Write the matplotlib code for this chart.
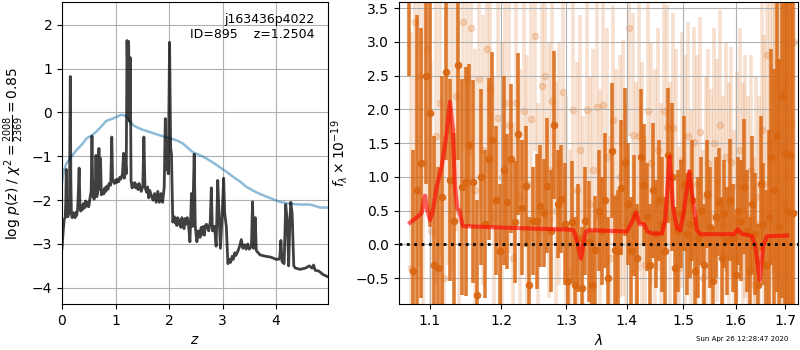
import matplotlib
matplotlib.use('Agg')
import matplotlib.pyplot as plt
from matplotlib.ticker import NullLocator, NullFormatter

# redshift fit: log p(z) and prior
z_grid = [0.00, 0.02, 0.04, 0.06, 0.07, 0.08, 0.09, 0.11, 0.13, 0.14, 0.155, 0.165, 0.175,
          0.19, 0.20, 0.215, 0.23, 0.245, 0.26, 0.275, 0.29, 0.30, 0.32, 0.335, 0.35, 0.36,
          0.38, 0.40, 0.42, 0.44, 0.46, 0.48, 0.50, 0.52, 0.545,
          0.56, 0.575, 0.60, 0.62, 0.635, 0.65, 0.67, 0.69, 0.705, 0.72, 0.735, 0.76, 0.78,
          0.80, 0.82, 0.84, 0.86, 0.88, 0.91, 0.93, 0.945, 0.98, 1.00, 1.02, 1.04, 1.06,
          1.08, 1.10, 1.13, 1.15, 1.165, 1.18,
          1.20, 1.215, 1.23, 1.245, 1.26, 1.275, 1.29, 1.31, 1.32, 1.34, 1.36, 1.38, 1.40,
          1.42, 1.44, 1.46, 1.48, 1.51,
          1.53, 1.55, 1.58, 1.60, 1.62, 1.64, 1.66, 1.70, 1.73, 1.76, 1.79, 1.82, 1.85, 1.88,
          1.91, 1.93, 1.95, 1.97, 1.985, 2.01, 2.03, 2.045, 2.07, 2.10, 2.115, 2.13, 2.145,
          2.16, 2.18, 2.20, 2.22, 2.24, 2.26, 2.28, 2.30, 2.32, 2.34, 2.36, 2.39, 2.42, 2.44,
          2.47, 2.49, 2.52, 2.55, 2.58, 2.60, 2.62, 2.64, 2.66, 2.68,
          2.70, 2.74, 2.77, 2.79, 2.81, 2.85, 2.88, 2.91, 2.93, 2.96, 2.99, 3.02, 3.04,
          3.07, 3.10, 3.13, 3.15, 3.18, 3.20, 3.23, 3.25, 3.29, 3.32, 3.35, 3.38, 3.41,
          3.44, 3.47, 3.50,
          3.54, 3.56, 3.58, 3.61, 3.63, 3.70, 3.80, 3.90, 4.00, 4.05, 4.07, 4.09, 4.11,
          4.15, 4.18, 4.21, 4.235, 4.26, 4.275, 4.30, 4.33, 4.36, 4.45, 4.55, 4.62, 4.67,
          4.70, 4.73, 4.80, 4.88, 4.97]
log_pz = [-3.10, -2.75, -2.45, -2.40, -2.05, -1.30, -2.30, -2.38, -2.30, -1.90, 0.82, -1.50, -2.30,
          -2.40, -2.28, -2.38, -2.30, -2.40, -2.28, -2.35, -2.22, -2.00, -1.27, -2.10, -2.25, -2.12,
          -2.22, -2.08, -2.18, -2.02, -2.14, -2.05, -2.15, -1.98, -1.80,
          -0.54, -1.90, -1.98, -1.85, -0.98, -1.92, -1.80, -0.82, -1.75, -1.05, -1.88, -1.78, -1.86,
          -1.72, -1.80, -1.68, -1.75, -1.62, -1.66, -0.56, -1.55, -1.62, -1.54, -1.60, -1.52, -1.58,
          -1.48, -1.52, -1.40, -0.93, -1.50, -1.00,
          -1.40, 1.64, 0.60, 1.62, -0.20, 1.25, -1.55, -1.72, -1.62, -1.70, -1.60, -1.72, -1.65,
          -1.76, -1.62, -1.72, -1.80, -1.68,
          -0.56, -1.70, -1.82, -1.70, -1.95, -1.78, -1.86, -2.00, -1.85, -2.05, -1.80, -2.05, -1.85, -2.05,
          -1.70, -0.14, -1.30, -0.90, -1.40, 1.60, -0.80, -0.95, -2.50, -2.38, -2.52, -2.42, -2.58,
          -2.40, -2.55, -2.45, -2.62, -2.40, -2.55, -2.65, -2.42, -2.55, -2.40, -2.50, -2.95, -1.85, -2.60,
          -0.95, -2.60, -2.95, -2.70, -2.85, -2.62, -2.78, -2.60, -2.80, -2.58,
          -2.55, -2.70, -2.50, -1.72, -2.70, -2.60, -3.05, -1.55, -2.20, -3.10, -2.40, -1.50, -2.30,
          -2.60, -3.45, -3.35, -3.42, -3.28, -3.35, -3.20, -3.26, -3.15, -3.05, -2.90, -3.10, -3.02,
          -3.12, -3.00, -3.12,
          -3.05, -2.04, -3.10, -2.40, -3.15, -3.25, -3.28, -3.30, -3.35, -3.35, -3.30, -2.92, -3.40,
          -3.45, -2.10, -2.50, -3.50, -2.40, -2.05, -2.30, -3.50, -3.55, -3.58, -3.55, -3.50, -3.55,
          -3.48, -3.60, -3.62, -3.70, -3.75]

z_prior = [0.00, 0.03, 0.08, 0.15, 0.27, 0.38, 0.46, 0.55, 0.64, 0.75, 0.83, 0.95, 1.02,
           1.11, 1.20, 1.26, 1.33, 1.42, 1.52, 1.65, 1.77, 1.90, 2.02, 2.15, 2.26, 2.36,
           2.45, 2.55, 2.64, 2.74, 2.83, 2.95, 3.08, 3.20, 3.33, 3.45, 3.58, 3.70, 3.82,
           3.95, 4.07, 4.20, 4.32, 4.45, 4.63, 4.72, 4.82, 4.97]
log_prior = [-1.60, -1.35, -1.17, -1.05, -0.86, -0.72, -0.59, -0.53, -0.44, -0.30, -0.19, -0.14, -0.10,
             -0.05, -0.08, -0.18, -0.29, -0.35, -0.40, -0.45, -0.50, -0.55, -0.59, -0.64, -0.71, -0.82,
             -0.91, -0.96, -1.01, -1.08, -1.15, -1.25, -1.36, -1.47, -1.58, -1.70, -1.79, -1.86, -1.92,
             -1.98, -2.04, -2.07, -2.09, -2.10, -2.10, -2.13, -2.17, -2.17]

# G141 spectrum, two extractions
wave_a = [1.0720, 1.0775, 1.0830, 1.0885, 1.0940, 1.0995, 1.1050, 1.1105, 1.1160, 1.1215,
          1.1270, 1.1325, 1.1380, 1.1435, 1.1490, 1.1545, 1.1600, 1.1655, 1.1710, 1.1765,
          1.1820, 1.1875, 1.1930, 1.1985, 1.2040, 1.2095, 1.2150, 1.2205, 1.2260, 1.2315,
          1.2370, 1.2425, 1.2480, 1.2535, 1.2590, 1.2645, 1.2700, 1.2755, 1.2810, 1.2865,
          1.2920, 1.2975, 1.3030, 1.3085, 1.3140, 1.3195, 1.3250, 1.3305, 1.3360, 1.3415,
          1.3470, 1.3525, 1.3580, 1.3635, 1.3690, 1.3745, 1.3800, 1.3855, 1.3910, 1.3965,
          1.4020, 1.4075, 1.4130, 1.4185, 1.4240, 1.4295, 1.4350, 1.4405, 1.4460, 1.4515,
          1.4570, 1.4625, 1.4680, 1.4735, 1.4790, 1.4845, 1.4900, 1.4955, 1.5010, 1.5065,
          1.5120, 1.5175, 1.5230, 1.5285, 1.5340, 1.5395, 1.5450, 1.5505, 1.5560, 1.5615,
          1.5670, 1.5725, 1.5780, 1.5835, 1.5890, 1.5945, 1.6000, 1.6055, 1.6110, 1.6165,
          1.6220, 1.6275, 1.6330, 1.6385, 1.6440, 1.6495, 1.6550, 1.6605, 1.6660, 1.6715,
          1.6770, 1.6825, 1.6880, 1.6935, 1.6990, 1.7045, 1.7100, 1.7155]
flux_a = [4.60, -0.40, 0.80, 1.20, 2.50, 1.95, -0.30, -0.35, 0.70, 2.55,
          0.95, 0.35, 2.65, 0.85, 0.93, 1.47, 0.93, -0.75, 1.00, 0.30,
          1.26, 1.55, 0.65, -0.10, 1.10, 0.63, 1.27, 0.33, 1.63, 0.54,
          0.86, -0.60, 0.34, 0.34, 0.57, 0.47, 0.87, 0.20, 1.77, 0.60,
          0.67, 0.30, -0.55, 0.33, -0.60, 0.10, -0.65, 0.35, 0.04, -0.60,
          -0.08, 0.50, 0.20, 0.65, -0.50, 1.39, -0.08, -0.10, 0.84, 1.22,
          0.60, -0.10, 0.43, -0.20, 1.30, 0.88, 0.40, -0.30, 0.80, 0.16,
          0.65, 0.30, -0.10, 1.32, 1.00, -0.35, 0.20, 0.45, 0.90, 0.15,
          0.30, 0.65, -0.40, 0.10, 0.50, -0.30, 0.75, 0.25, -0.55, 0.40,
          0.62, -0.20, 0.45, 0.05, 0.66, 0.10, -0.45, 0.50, 0.35, 0.85,
          0.20, -0.40, 0.60, 0.15, -0.60, 0.90, 0.30, -0.30, 0.40, 1.30,
          0.80, 1.60, 0.25, 2.20, 1.35, 0.50, 1.33, 0.47]
err_a = [2.1, 1.8, 2.6, 2.0, 1.6, 1.7, 1.9, 1.5, 1.8, 1.3,
         1.5, 1.3, 1.4, 1.6, 1.7, 1.2, 1.5, 1.4, 1.3, 1.1,
         1.2, 1.3, 1.1, 1.0, 1.4, 1.0, 1.1, 0.9, 1.2, 1.0,
         0.9, 1.0, 0.8, 1.0, 0.9, 0.8, 1.0, 0.9, 1.1, 0.8,
         0.8, 0.9, 0.8, 0.9, 1.0, 0.8, 0.9, 0.8, 0.9, 0.8,
         0.8, 0.9, 0.8, 1.0, 0.9, 1.0, 0.8, 0.9, 1.0, 1.1,
         0.9, 0.8, 0.9, 0.8, 1.0, 0.9, 0.8, 0.9, 1.0, 0.8,
         0.9, 1.0, 0.8, 1.0, 1.1, 0.9, 0.9, 0.8, 1.0, 0.9,
         0.8, 0.9, 0.8, 0.9, 0.8, 0.9, 0.8, 0.9, 0.8, 0.9,
         0.8, 0.9, 0.8, 0.8, 0.9, 0.8, 0.9, 0.8, 0.9, 1.0,
         0.9, 0.8, 1.0, 0.9, 0.9, 1.0, 0.9, 1.1, 1.3, 1.6,
         1.8, 2.3, 2.5, 3.0, 3.5, 4.0, 4.5, 5.0]

wave_b = [1.0745, 1.0800, 1.0855, 1.0910, 1.0965, 1.1020, 1.1075, 1.1130, 1.1185, 1.1240,
          1.1295, 1.1350, 1.1405, 1.1460, 1.1515, 1.1570, 1.1625, 1.1680, 1.1735, 1.1790,
          1.1845, 1.1900, 1.1955, 1.2010, 1.2065, 1.2120, 1.2175, 1.2230, 1.2285, 1.2340,
          1.2395, 1.2450, 1.2505, 1.2560, 1.2615, 1.2670, 1.2725, 1.2780, 1.2835, 1.2890,
          1.2945, 1.3000, 1.3055, 1.3110, 1.3165, 1.3220, 1.3275, 1.3330, 1.3385, 1.3440,
          1.3495, 1.3550, 1.3605, 1.3660, 1.3715, 1.3770, 1.3825, 1.3880, 1.3935, 1.3990,
          1.4045, 1.4100, 1.4155, 1.4210, 1.4265, 1.4320, 1.4375, 1.4430, 1.4485, 1.4540,
          1.4595, 1.4650, 1.4705, 1.4760, 1.4815, 1.4870, 1.4925, 1.4980, 1.5035, 1.5090,
          1.5145, 1.5200, 1.5255, 1.5310, 1.5365, 1.5420, 1.5475, 1.5530, 1.5585, 1.5640,
          1.5695, 1.5750, 1.5805, 1.5860, 1.5915, 1.5970, 1.6025, 1.6080, 1.6135, 1.6190,
          1.6245, 1.6300, 1.6355, 1.6410, 1.6465, 1.6520, 1.6575, 1.6630, 1.6685, 1.6740,
          1.6795, 1.6850, 1.6905, 1.6960, 1.7015, 1.7070, 1.7125, 1.7180]
flux_b = [-0.35, 3.30, 2.50, 1.20, 2.90, 0.20, 1.60, 2.10, -0.50, 1.90,
          1.70, 2.20, 0.50, 3.30, 2.45, 3.20, 0.80, 2.45, 1.40, 2.90,
          2.30, 0.40, 1.87, 1.00, 2.10, 1.77, -0.20, 2.10, 0.70, 1.97,
          0.90, 1.85, 3.09, 0.20, 2.34, 2.49, 1.10, 2.13, 0.50, 1.20,
          2.26, 0.30, -0.40, 1.99, 0.80, 1.40, 0.10, 1.99, 0.60, 1.10,
          2.04, 0.40, 2.06, 1.30, -0.20, 1.84, 0.70, 1.00, 1.13, 0.30,
          3.21, 1.62, 0.50, 1.60, 0.90, -0.30, 1.97, 1.20, 0.60, 1.40,
          0.20, 1.97, 1.74, 0.40, 1.72, 1.00, -0.35, 1.25, 0.80, 1.60,
          0.10, 1.52, 0.90, 1.67, -0.50, 0.70, 1.20, 0.40, 1.50, 0.95,
          1.77, 0.30, 1.30, 0.60, 1.22, -0.20, 0.85, 1.40, 0.50, 1.00,
          0.40, 1.10, -0.60, 0.70, 0.30, 1.70, 0.90, 2.80, 1.50, 2.36,
          1.70, 2.70, 0.60, 2.30, 1.00, 2.50, 1.80, 3.00]
err_b = [3.5, 3.0, 2.8, 2.6, 2.4, 2.5, 2.2, 2.3, 2.1, 2.2,
         2.1, 2.0, 2.2, 1.9, 2.0, 1.9, 2.1, 1.9, 2.0, 1.9,
         2.0, 2.1, 1.9, 2.0, 1.8, 1.9, 2.0, 1.8, 1.9, 1.8,
         1.9, 1.8, 1.7, 1.9, 1.8, 1.7, 1.9, 1.8, 1.9, 1.8,
         1.7, 1.9, 1.8, 1.7, 1.9, 2.0, 1.8, 1.7, 1.9, 1.8,
         1.7, 1.9, 1.8, 1.9, 1.8, 1.7, 1.9, 1.8, 1.9, 1.8,
         1.6, 1.8, 1.9, 2.0, 1.8, 1.9, 1.7, 1.8, 2.0, 1.8,
         1.9, 1.7, 1.8, 2.0, 1.7, 1.9, 1.8, 1.9, 2.0, 1.7,
         1.9, 1.7, 1.9, 1.7, 1.9, 1.8, 1.7, 1.9, 1.7, 1.8,
         1.7, 1.9, 1.7, 1.8, 1.7, 1.9, 1.7, 1.8, 1.9, 1.8,
         1.8, 1.7, 1.9, 1.8, 1.9, 2.0, 2.2, 2.4, 2.7, 2.8,
         3.0, 3.2, 3.5, 3.8, 4.0, 4.2, 4.5, 5.0]

# best-fit line model
wave_model = [1.0733, 1.0800, 1.0888, 1.0933, 1.0965, 1.1000, 1.1040, 1.1090, 1.1159, 1.1227,
              1.1273, 1.1310, 1.1343, 1.1375, 1.1403, 1.1450, 1.2000, 1.2600, 1.3008, 1.3116,
              1.3181, 1.3235, 1.3277, 1.3316, 1.3386, 1.4002, 1.4077, 1.4163, 1.4221, 1.4303,
              1.4362, 1.4438, 1.4617, 1.4676, 1.4755, 1.4816, 1.4889, 1.4949, 1.5010, 1.5115,
              1.5183, 1.5258, 1.5320, 1.5960, 1.6045, 1.6110, 1.6324, 1.6391, 1.6478, 1.6545,
              1.6627, 1.7039]
flux_model = [0.32, 0.38, 0.46, 0.72, 0.50, 0.36, 0.50, 0.85, 1.15, 1.64,
              2.11, 1.74, 0.85, 0.53, 0.50, 0.27, 0.25, 0.23, 0.22, 0.21,
              0.02, -0.21, 0.02, 0.19, 0.21, 0.19, 0.31, 0.47, 0.30, 0.30,
              0.19, 0.16, 0.16, 0.36, 1.30, 0.56, 0.24, 0.21, 0.46, 1.08,
              0.66, 0.21, 0.15, 0.15, 0.22, 0.16, 0.12, -0.03, -0.53, -0.03,
              0.12, 0.13]

lam_ticks = [1.1, 1.2, 1.3, 1.4, 1.5, 1.6, 1.7]
orange = '#d9650f'

fig = plt.figure(figsize=(8, 3.5), dpi=100)
ax1 = fig.add_axes([0.0775, 0.1314, 0.3325, 0.8629])
ax2 = fig.add_axes([0.49875, 0.1314, 0.49875, 0.8629])

# p(z) panel
ax1.plot(z_prior, log_prior, color='tab:blue', alpha=0.5, lw=1.8)
ax1.plot(z_grid, log_pz, color='k', alpha=0.75, lw=2)
ax1.set_xlim(0, 4.97)
ax1.set_ylim(-4.37, 2.52)
ax1.set_xticks([0, 1, 2, 3, 4])
ax1.set_yticks([-4, -3, -2, -1, 0, 1, 2])
ax1.grid()
ax1.set_xlabel(r'$z$')
ax1.set_ylabel(r'log $p(z)$ / $\chi^2=\frac{2008}{2369}=0.85$')
ax1.text(0.95, 0.965, 'j163436p4022\nID=895    z=1.2504', transform=ax1.transAxes,
         ha='right', va='top', fontsize=9)

# spectrum panel
ax2.errorbar(wave_b, flux_b, yerr=err_b, fmt='o', color=orange, alpha=0.2,
             ms=4.5, elinewidth=2.6, capsize=0, zorder=1)
ax2.errorbar(wave_a, flux_a, yerr=err_a, fmt='o', color=orange, alpha=0.85,
             ms=4.5, elinewidth=2.6, capsize=0, zorder=2)
ax2.plot(wave_model, flux_model, color='r', alpha=0.6, lw=3, zorder=3)
ax2.axhline(0, color='k', ls=':', lw=2, zorder=4)

ax2.set_xscale('log')
ax2.set_xlim(1.059, 1.727)
ax2.set_ylim(-0.884, 3.59)
ax2.set_xticks(lam_ticks)
ax2.set_xticklabels([str(t) for t in lam_ticks])
ax2.xaxis.set_minor_locator(NullLocator())
ax2.xaxis.set_minor_formatter(NullFormatter())
ax2.set_yticks([-0.5, 0.0, 0.5, 1.0, 1.5, 2.0, 2.5, 3.0, 3.5])
ax2.grid()
ax2.set_xlabel(r'$\lambda$')
ax2.set_ylabel(r'$f_\lambda\times10^{-19}$')

fig.text(0.985, 0.022, 'Sun Apr 26 12:28:47 2020', ha='right', va='bottom', fontsize=5)

fig.savefig('out.png', dpi=100)
